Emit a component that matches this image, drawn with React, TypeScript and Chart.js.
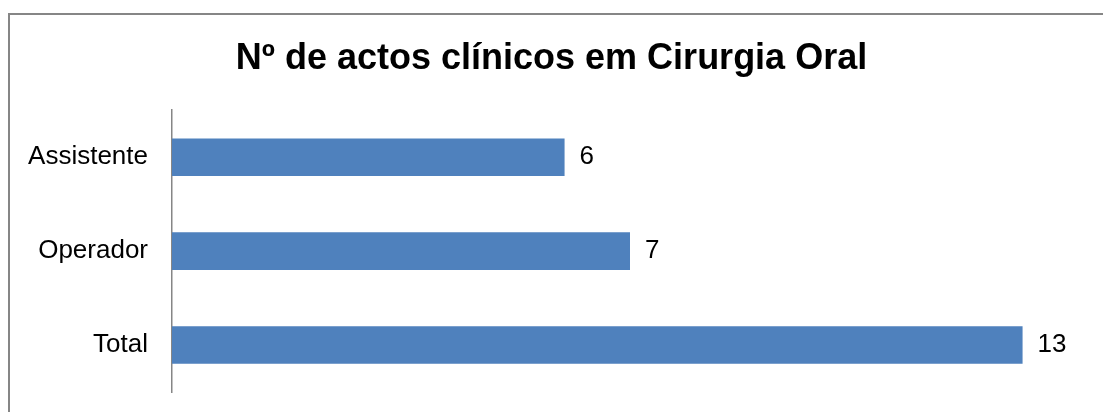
import React, { useEffect, useRef } from "react";
import { Chart, registerables } from "chart.js";

Chart.register(...registerables);

const categories: string[] = ["Assistente", "Operador", "Total"];
const values: number[] = [6, 7, 13];
const titleText = "Nº de actos clínicos em Cirurgia Oral";
const FONT = "'Liberation Sans', Arial, sans-serif";

const framePlugin = {
  id: "frame",
  beforeDraw(chart: any) {
    const ctx = chart.ctx;
    ctx.save();
    ctx.fillStyle = "#ffffff";
    ctx.fillRect(0, 0, chart.width, chart.height);
    ctx.strokeStyle = "#868686";
    ctx.lineWidth = 2;
    ctx.strokeRect(9, 14, 3000, 3000);
    ctx.restore();
  },
};

const valueLabelPlugin = {
  id: "valueLabels",
  afterDatasetsDraw(chart: any) {
    const ctx = chart.ctx;
    const meta = chart.getDatasetMeta(0);
    ctx.save();
    ctx.font = `26px ${FONT}`;
    ctx.fillStyle = "#000000";
    ctx.textAlign = "left";
    ctx.textBaseline = "middle";
    meta.data.forEach((bar: any, i: number) => {
      ctx.fillText(String(values[i]), bar.x + 15, bar.y);
    });
    ctx.restore();
  },
};

export default function App() {
  const ref = useRef<HTMLCanvasElement | null>(null);
  useEffect(() => {
    if (!ref.current) return;
    const chart = new Chart(ref.current, {
      type: "bar",
      data: {
        labels: categories,
        datasets: [
          {
            data: values,
            backgroundColor: "#4F81BD",
            borderWidth: 0,
            barPercentage: 0.4,
            categoryPercentage: 1,
          },
        ],
      },
      options: {
        indexAxis: "y",
        responsive: false,
        maintainAspectRatio: false,
        animation: false,
        layout: { padding: { left: 15, right: 15, top: 0, bottom: 20 } },
        plugins: {
          legend: { display: false },
          tooltip: { enabled: false },
          title: {
            display: true,
            text: titleText,
            color: "#000000",
            font: { family: FONT, size: 36, weight: "bold" },
            padding: { top: 37, bottom: 30 },
          },
        },
        scales: {
          x: {
            display: false,
            min: 0,
            max: 14,
          },
          y: {
            grid: { display: false, drawTicks: false },
            border: { display: true, color: "#868686", width: 1.5 },
            ticks: {
              color: "#000000",
              font: { family: FONT, size: 26 },
              padding: 24,
            },
            afterFit: (scale: any) => {
              scale.width = 157;
              scale.paddingTop = 0;
              scale.paddingBottom = 0;
            },
          },
        },
      },
      plugins: [framePlugin, valueLabelPlugin],
    });
    return () => chart.destroy();
  }, []);
  return (
    <div style={{ position: "fixed", left: 0, top: 0, width: 1103, height: 412 }}>
      <canvas ref={ref} width={1103} height={412} style={{ display: "block", width: 1103, height: 412 }} />
    </div>
  );
}
